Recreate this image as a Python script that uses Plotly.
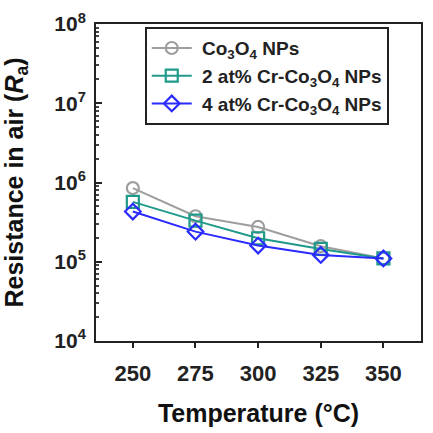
import plotly.graph_objects as go

temps = [250, 275, 300, 325, 350]
co3o4 = [8.5e5, 3.75e5, 2.75e5, 1.57e5, 1.1e5]
cr2 = [5.7e5, 3.3e5, 1.98e5, 1.45e5, 1.1e5]
cr4 = [4.3e5, 2.4e5, 1.6e5, 1.22e5, 1.1e5]
names = ["&nbsp;Co<sub>3</sub>O<sub>4</sub> NPs",
         "&nbsp;2 at% Cr-Co<sub>3</sub>O<sub>4</sub> NPs",
         "&nbsp;4 at% Cr-Co<sub>3</sub>O<sub>4</sub> NPs"]
colors = ["#9e9e9e", "#1f9a8a", "#2b2bff"]
symbols = ["circle-open", "square-open", "diamond-open"]
ytickvals = [1e4, 1e5, 1e6, 1e7, 1e8]
yticktext = ["10<sup>4</sup>", "10<sup>5</sup>", "10<sup>6</sup>", "10<sup>7</sup>", "10<sup>8</sup>"]

fig = go.Figure()
for ys, nm, c, s in zip([co3o4, cr2, cr4], names, colors, symbols):
    fig.add_trace(go.Scatter(x=temps, y=ys, name=nm, mode="lines+markers",
                             line=dict(color=c, width=2),
                             marker=dict(symbol=s, size=12, color=c, line=dict(width=2.2, color=c))))

font = "Liberation Sans, Arial, sans-serif"
minor_vals = [m * 10 ** e for e in range(4, 8) for m in range(2, 10)]
fig.update_layout(
    width=433, height=433,
    margin=dict(l=96, r=10, t=14, b=92),
    plot_bgcolor="white", paper_bgcolor="white",
    font=dict(family=font, color="#222", size=16, weight="bold"),
    showlegend=True,
    legend=dict(x=0.15, y=0.99, xanchor="left", yanchor="top",
                bordercolor="#222", borderwidth=2, bgcolor="white",
                font=dict(family=font, size=19, color="#222", weight="bold"),
                tracegroupgap=0, itemwidth=40),
    xaxis=dict(range=[235.3, 365], tickvals=temps, ticks="outside", ticklen=5,
               tickwidth=1.5, tickcolor="#222", showline=True, linecolor="#222",
               linewidth=2, mirror=True, showgrid=False, zeroline=False,
               ticklabelstandoff=7,
               tickfont=dict(family=font, size=22, color="#222", weight="bold"),
               title=dict(text="Temperature (°C)", font=dict(family=font, size=25, color="#111", weight="bold"),
                          standoff=19)),
    yaxis=dict(type="log", range=[3.9995, 8.0005], tickvals=ytickvals, ticktext=yticktext,
               ticks="inside", ticklen=6, tickwidth=1.5, tickcolor="#222",
               showline=True, linecolor="#222", linewidth=2, mirror=True,
               showgrid=False, zeroline=False, ticklabelstandoff=4,
               ticklabeloverflow="allow",
               tickfont=dict(family=font, size=21, color="#222", weight="bold"),
               minor=dict(tickvals=minor_vals, ticks="inside", ticklen=3, tickcolor="#444", showgrid=False),
               title=dict(text="Resistance in air (<i>R</i><sub>a</sub>)",
                          font=dict(family=font, size=25, color="#111", weight="bold"), standoff=24)),
)
fig.write_html("out.html")
